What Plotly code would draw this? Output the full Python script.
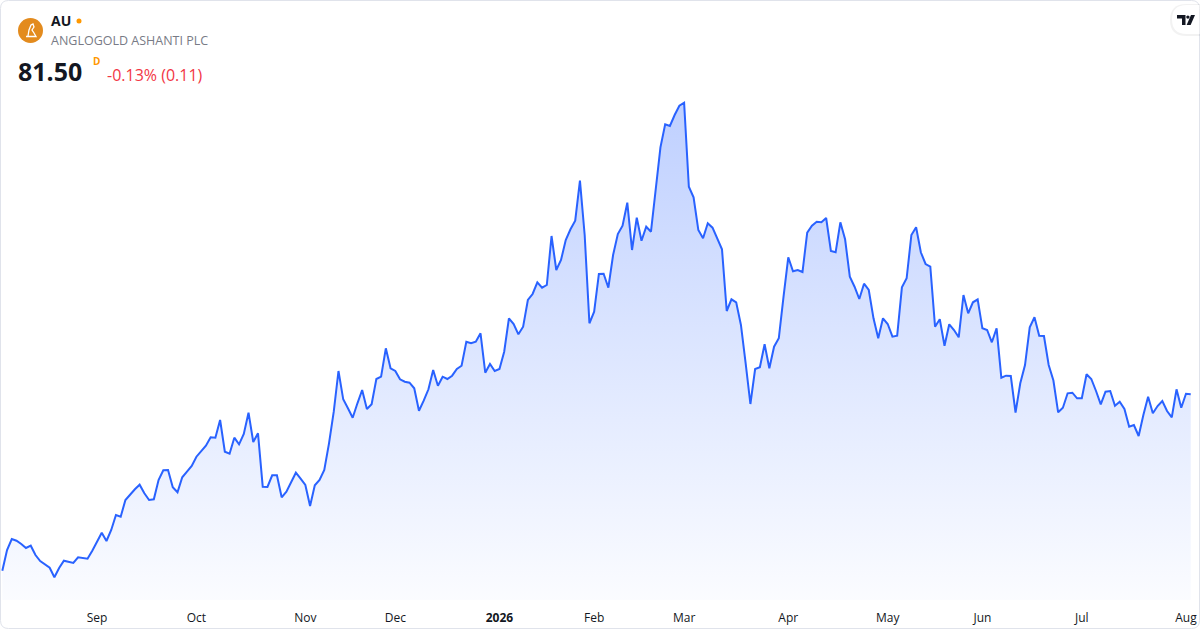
import pandas as pd
import plotly.graph_objects as go

# daily closes, AU (AngloGold Ashanti), Aug 2025 - Aug 2026
prices = [
    46.22, 50.36, 52.56, 52.22, 51.56, 50.76, 51.22, 49.36, 48.16, 47.56,
    46.82, 44.90, 46.76, 48.22, 47.96, 47.76, 48.90, 48.82, 48.62, 50.22,
    52.02, 53.82, 52.16, 54.36, 57.36, 57.02, 60.36, 61.50, 62.50, 63.42,
    61.70, 60.36, 60.50, 64.36, 66.30, 66.36, 62.90, 61.90, 64.90, 66.02,
    67.16, 69.02, 70.16, 71.22, 72.90, 72.82, 76.36, 70.02, 69.62, 72.82,
    71.50, 73.56, 77.82, 71.96, 73.70, 63.02, 62.96, 65.30, 65.30, 60.90,
    62.02, 63.82, 65.82, 64.62, 63.36, 59.16, 63.30, 64.36, 66.36, 71.70,
    78.02, 86.16, 80.50, 78.70, 76.82, 79.70, 82.36, 78.56, 79.50, 84.56,
    85.02, 90.70, 86.70, 86.16, 84.50, 84.02, 83.82, 82.70, 78.22, 80.22,
    82.50, 86.36, 83.22, 85.02, 84.56, 85.22, 86.56, 87.22, 92.02, 91.70,
    92.02, 93.70, 85.82, 87.56, 86.16, 86.56, 90.02, 96.70, 95.56, 93.50,
    95.02, 100.36, 101.56, 103.90, 102.82, 103.36, 113.16, 106.36, 108.36, 112.36,
    114.50, 116.22, 124.22, 113.36, 95.70, 98.02, 105.56, 105.62, 102.82, 109.36,
    113.56, 115.22, 119.82, 110.36, 116.82, 112.22, 115.02, 114.02, 122.36, 130.90,
    135.50, 135.16, 137.36, 139.22, 139.82, 123.02, 120.90, 114.36, 112.70, 115.70,
    114.82, 112.50, 110.50, 98.16, 100.50, 99.90, 95.36, 87.70, 79.56, 86.56,
    86.90, 91.50, 86.70, 91.02, 92.70, 101.02, 108.90, 106.10, 106.36, 105.96,
    113.82, 115.22, 116.02, 115.90, 116.76, 110.16, 109.90, 115.90, 112.50, 105.02,
    103.02, 100.56, 103.62, 102.36, 96.70, 92.70, 96.70, 95.56, 93.02, 93.22,
    102.90, 104.70, 113.36, 114.90, 109.90, 107.56, 107.02, 95.02, 96.50, 91.22,
    95.50, 94.36, 92.90, 101.36, 97.70, 99.90, 100.50, 94.70, 94.36, 91.90,
    94.70, 84.82, 85.22, 85.16, 77.82, 83.70, 87.36, 94.90, 96.90, 93.22,
    93.16, 87.36, 84.26, 77.90, 78.82, 81.70, 81.82, 80.70, 80.70, 85.50,
    84.56, 82.16, 79.50, 82.02, 82.16, 79.22, 80.02, 78.56, 75.02, 75.36,
    73.16, 77.36, 81.02, 77.70, 79.16, 80.16, 78.16, 76.90, 82.50, 78.82,
    81.61, 81.50,
]

# market holidays in the period (no bars on these days)
holidays = [
    "2025-09-01", "2025-11-27", "2025-12-25", "2026-01-01", "2026-01-19",
    "2026-02-16", "2026-04-03", "2026-05-25", "2026-06-19", "2026-07-03",
]

symbol = "AU"
company = "ANGLOGOLD ASHANTI PLC"
last_price = "81.50"
change_text = "-0.13% (0.11)"

W, H = 1200, 630

dates = pd.bdate_range("2025-08-04", periods=len(prices), freq="C", holidays=holidays)
idx = list(range(len(prices)))

# month ticks on the first bar of each month
tickvals, ticktext = [], []
for i in range(1, len(dates)):
    if dates[i].month != dates[i - 1].month:
        tickvals.append(i)
        if dates[i].month == 1:
            ticktext.append(f"<b>{dates[i].year}</b>")
        else:
            ticktext.append(dates[i].strftime("%b"))


def px(x):
    return x / W


def py(y):
    return 1 - y / H


def path(points, close=True):
    s = "M " + " L ".join(f"{px(x):.5f},{py(y):.5f}" for x, y in points)
    return s + (" Z" if close else "")


fig = go.Figure()

fig.add_trace(go.Scatter(
    x=idx,
    y=prices,
    mode="lines",
    line=dict(color="#2962FF", width=2),
    fill="tozeroy",
    fillgradient=dict(
        type="vertical",
        colorscale=[[0, "rgba(41,98,255,0.02)"], [1, "rgba(41,98,255,0.30)"]],
        start=40.36,
        stop=140,
    ),
    hoverinfo="skip",
))

shapes = []

# card border with rounded corners
r = 8
x0, y0, x1, y1 = 0.5, 0.5, W - 0.5, H - 1.5
border = (
    f"M {px(x0 + r)},{py(y0)} L {px(x1 - r)},{py(y0)} "
    f"Q {px(x1)},{py(y0)} {px(x1)},{py(y0 + r)} L {px(x1)},{py(y1 - r)} "
    f"Q {px(x1)},{py(y1)} {px(x1 - r)},{py(y1)} L {px(x0 + r)},{py(y1)} "
    f"Q {px(x0)},{py(y1)} {px(x0)},{py(y1 - r)} L {px(x0)},{py(y0 + r)} "
    f"Q {px(x0)},{py(y0)} {px(x0 + r)},{py(y0)} Z"
)
shapes.append(dict(type="path", xref="paper", yref="paper", path=border,
                   line=dict(color="#E0E3EB", width=1), layer="above"))

# logo circle with a rough white emblem
shapes.append(dict(type="circle", xref="paper", yref="paper",
                   x0=px(18), x1=px(43), y0=py(43), y1=py(18),
                   fillcolor="#E38B1E", line=dict(width=0), layer="above"))
shapes.append(dict(type="path", xref="paper", yref="paper",
                   path=path([(28, 36), (29, 30), (31, 25), (33, 24), (34, 27), (32, 30),
                              (34, 33), (36, 36.5), (26, 36.5)], close=False),
                   line=dict(color="white", width=1.3), layer="above"))
# orange status dot
shapes.append(dict(type="circle", xref="paper", yref="paper",
                   x0=px(76.5), x1=px(81.5), y0=py(23.5), y1=py(18.5),
                   fillcolor="#FF9800", line=dict(width=0), layer="above"))


# tradingview badge (pill + glyph)
def pill(xl, yt, yb, xr, color):
    rr = (yb - yt) / 2
    p = (
        f"M {px(xr)},{py(yt)} L {px(xl + rr)},{py(yt)} "
        f"Q {px(xl)},{py(yt)} {px(xl)},{py(yt + rr)} "
        f"Q {px(xl)},{py(yb)} {px(xl + rr)},{py(yb)} L {px(xr)},{py(yb)} Z"
    )
    return dict(type="path", xref="paper", yref="paper", path=p,
                fillcolor=color, line=dict(width=0), layer="above")


shapes.append(pill(1170, 4, 36, 1200, "rgba(0,0,0,0.05)"))
shapes.append(pill(1172, 5, 34, 1199.5, "white"))
shapes.append(dict(type="path", xref="paper", yref="paper",
                   path=path([(1177, 15), (1185.5, 15), (1185.5, 25), (1182, 25), (1182, 18.5), (1177, 18.5)]),
                   fillcolor="#131722", line=dict(width=0), layer="above"))
shapes.append(dict(type="circle", xref="paper", yref="paper",
                   x0=px(1186.2), x1=px(1189.6), y0=py(18.8), y1=py(15.4),
                   fillcolor="#131722", line=dict(width=0), layer="above"))
shapes.append(dict(type="path", xref="paper", yref="paper",
                   path=path([(1191, 15), (1195, 15), (1190.6, 25), (1186.6, 25)]),
                   fillcolor="#131722", line=dict(width=0), layer="above"))

font = "Open Sans, Noto Sans, sans-serif"
annotations = [
    dict(text=f"<b>{symbol}</b>", x=px(50), y=py(20.5), font=dict(size=14, color="#131722")),
    dict(text=company, x=px(50), y=py(41), font=dict(size=12.5, color="#787B86")),
    dict(text=f"<b>{last_price}</b>", x=px(17), y=py(71), font=dict(size=25, color="#131722")),
    dict(text="<b>D</b>", x=px(92), y=py(61), font=dict(size=10, color="#FF9800")),
    dict(text=change_text, x=px(106), y=py(74.5), font=dict(size=16, color="#F23645")),
]
for a in annotations:
    a.update(xref="paper", yref="paper", xanchor="left", yanchor="middle",
             showarrow=False, borderpad=0)
    a["font"]["family"] = font

fig.update_layout(
    width=W,
    height=H,
    margin=dict(l=0, r=0, t=0, b=0),
    paper_bgcolor="white",
    plot_bgcolor="white",
    showlegend=False,
    shapes=shapes,
    annotations=annotations,
    font=dict(family=font, color="#131722"),
    xaxis=dict(
        range=[-0.49, 252.96],
        tickvals=tickvals,
        ticktext=ticktext,
        showgrid=False,
        zeroline=False,
        showline=False,
        ticks="outside",
        ticklen=7,
        tickcolor="rgba(0,0,0,0)",
        tickfont=dict(size=12, color="#131722"),
        fixedrange=True,
    ),
    yaxis=dict(
        domain=[30 / H, 1],
        range=[40.36, 160.36],
        visible=False,
        fixedrange=True,
    ),
)

# drop the default page margin so the figure sits at the window's corner
fig.write_html("out.html", config={"displayModeBar": False},
               post_script="document.body.style.margin='0';")
